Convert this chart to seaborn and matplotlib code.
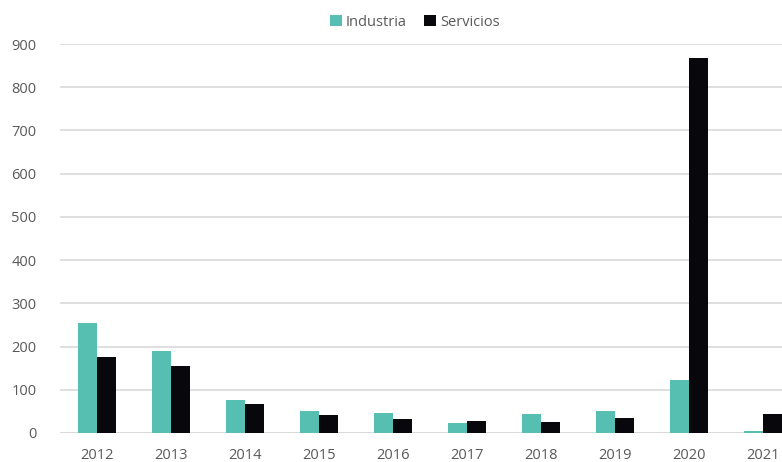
import numpy as np
import pandas as pd
import matplotlib.pyplot as plt
import seaborn as sns

# Data
years = ['2012', '2013', '2014', '2015', '2016', '2017', '2018', '2019', '2020', '2021']
industria = [255, 189, 77, 50, 47, 24, 45, 52, 122, 5]
servicios = [176, 154, 66, 41, 33, 28, 26, 35, 867, 43]
series_names = ['Industria', 'Servicios']
colors = ['#56BFB1', '#08080C']

df = pd.DataFrame({
    'year': years * 2,
    'value': industria + servicios,
    'serie': [series_names[0]] * len(years) + [series_names[1]] * len(years),
})

sns.set_style('white')
plt.rcParams['font.family'] = ['Open Sans', 'DejaVu Sans']

fig = plt.figure(figsize=(7.82, 4.62), dpi=100)
# axes runs past the right edge, as in the original (2021 is cut off)
ax = fig.add_axes([60 / 782, 29 / 462, 740 / 782, 389 / 462])

sns.barplot(data=df, x='year', y='value', hue='serie', palette=colors,
            width=0.52, saturation=1, linewidth=0, ax=ax, legend=True)

ax.set_ylim(0, 900)
ax.set_yticks(np.arange(0, 1000, 100))
ax.set_xlim(-0.5, 9.5)
ax.set_xlabel('')
ax.set_ylabel('')
ax.yaxis.grid(True, color='#D9D9D9', linewidth=1.2)
ax.set_axisbelow(True)
for s in ax.spines.values():
    s.set_visible(False)
ax.axhline(0, color='#D9D9D9', linewidth=1.2, zorder=0)
ax.tick_params(axis='both', length=0, labelsize=10.5, colors='#595959')
ax.tick_params(axis='x', pad=11)
ax.tick_params(axis='y', pad=17)

handles, labels = ax.get_legend_handles_labels()
ax.legend(handles, labels, loc='upper center', bbox_to_anchor=(415 / 782, 0.997),
          bbox_transform=fig.transFigure, ncol=2, frameon=False, fontsize=10.5,
          handlelength=0.8, handleheight=0.8, handletextpad=0.3, columnspacing=1.2,
          labelcolor='#595959')

fig.savefig('out.png', dpi=100)
